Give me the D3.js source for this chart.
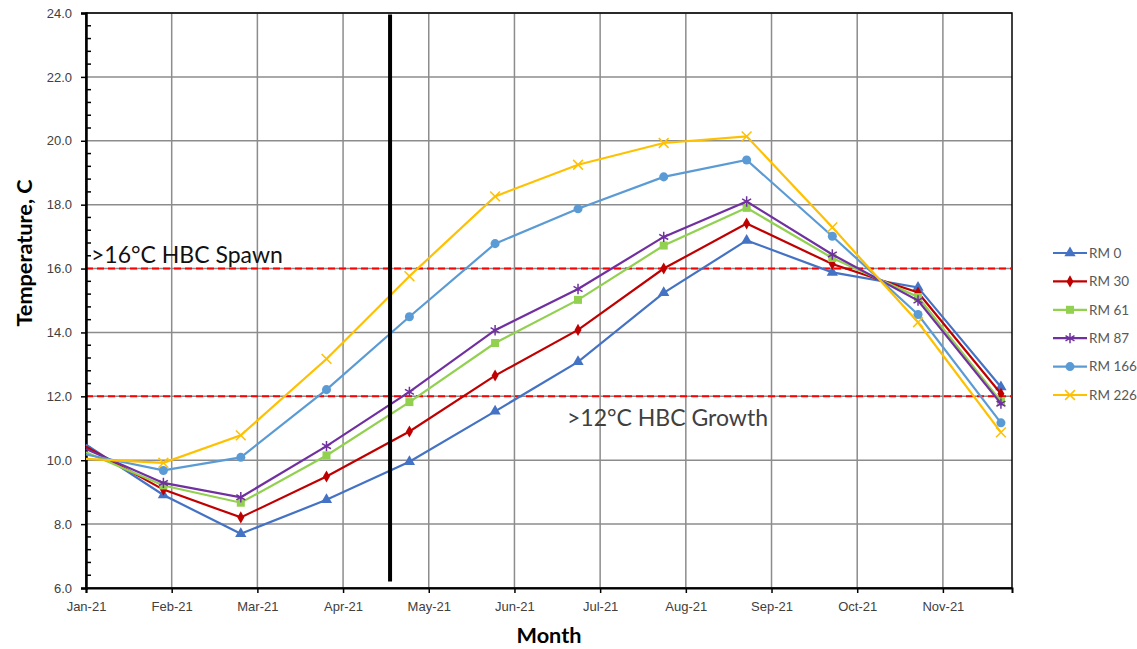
<!DOCTYPE html>
<html>
<head>
<meta charset="utf-8">
<script src="https://cdn.jsdelivr.net/npm/d3@7"></script>
<style>
  body { margin: 0; background: #fff; }
  svg { font-family: Lato, "Open Sans", sans-serif; }
  .grid line { stroke: #8c8c8c; stroke-width: 1.5; }
  .tick text { fill: #404040; font-size: 13px; }
</style>
</head>
<body>
<svg id="chart" width="1137" height="649"></svg>
<script>
// sample dates (one per month)
const dates = ['2021-01-01', '2021-01-29', '2021-02-26', '2021-03-29', '2021-04-28', '2021-05-29',
  '2021-06-28', '2021-07-29', '2021-08-28', '2021-09-28', '2021-10-29', '2021-11-28'];

const rm0 = [10.49, 8.91, 7.70, 8.76, 9.95, 11.53, 13.08, 15.24, 16.88, 15.88, 15.41, 12.29];
const rm30 = [10.42, 9.08, 8.21, 9.49, 10.90, 12.65, 14.08, 16.00, 17.41, 16.14, 15.25, 12.08];
const rm61 = [10.25, 9.21, 8.67, 10.15, 11.82, 13.67, 15.02, 16.72, 17.90, 16.33, 15.11, 11.84];
const rm87 = [10.35, 9.29, 8.84, 10.44, 12.14, 14.07, 15.36, 16.99, 18.10, 16.44, 15.00, 11.77];
const rm166 = [10.18, 9.68, 10.09, 12.21, 14.49, 16.78, 17.87, 18.87, 19.40, 17.01, 14.56, 11.17];
const rm226 = [10.04, 9.92, 10.78, 13.17, 15.76, 18.26, 19.25, 19.93, 20.14, 17.29, 14.32, 10.87];

const seriesNames = ['RM 0', 'RM 30', 'RM 61', 'RM 87', 'RM 166', 'RM 226'];
const seriesValues = [rm0, rm30, rm61, rm87, rm166, rm226];
const colors = ['#4472C4', '#C00000', '#92D050', '#7030A0', '#5B9BD5', '#FFC000'];
const markers = ['triangle', 'diamond', 'square', 'star', 'circle', 'cross'];

const yTicks = [6, 8, 10, 12, 14, 16, 18, 20, 22, 24];
const thresholds = [16, 12];
const thresholdLabels = ['>16\u00B0C HBC Spawn', '>12\u00B0C HBC Growth'];
const markerDate = '2021-04-21';

const parseDate = d3.timeParse('%Y-%m-%d');
const startDate = parseDate('2021-01-01');
const endDate = d3.timeDay.offset(startDate, 335);
// Excel-style major unit of 31 days
const xTicks = d3.range(11).map(i => d3.timeDay.offset(startDate, i * 31));

const margin = {top: 13, right: 125, bottom: 61, left: 86};
const width = 1137 - margin.left - margin.right;
const height = 649 - margin.top - margin.bottom;

const svg = d3.select('#chart');
const chart = svg.append('g')
  .attr('transform', `translate(${margin.left}, ${margin.top})`);

const x = d3.scaleTime()
  .domain([startDate, endDate])
  .range([0, width]);

const y = d3.scaleLinear()
  .domain([6, 24])
  .range([height, 0]);

// Grid lines
chart.append('g')
  .attr('class', 'grid')
  .selectAll('line')
  .data(yTicks)
  .enter().append('line')
    .attr('x1', 0)
    .attr('x2', width)
    .attr('y1', d => y(d))
    .attr('y2', d => y(d));

chart.append('g')
  .attr('class', 'grid')
  .selectAll('line')
  .data(xTicks.slice(1))
  .enter().append('line')
    .attr('x1', d => x(d))
    .attr('x2', d => x(d))
    .attr('y1', 0)
    .attr('y2', height);

// Plot border
chart.append('rect')
  .attr('width', width)
  .attr('height', height)
  .attr('fill', 'none')
  .attr('stroke', '#000')
  .attr('stroke-width', 1.5);

// Threshold lines
chart.selectAll('.threshold')
    .data(thresholds)
  .enter().append('line')
    .attr('class', 'threshold')
    .attr('x1', 0)
    .attr('x2', width)
    .attr('y1', d => y(d))
    .attr('y2', d => y(d))
    .attr('stroke', '#FF0000')
    .attr('stroke-width', 2)
    .attr('stroke-dasharray', '7,4');

chart.append('text')
  .attr('x', 5)
  .attr('y', y(thresholds[0]) - 6)
  .attr('font-size', 23)
  .attr('fill', '#111')
  .text(thresholdLabels[0]);

chart.append('text')
  .attr('x', 481)
  .attr('y', y(thresholds[1]) + 30)
  .attr('font-size', 23)
  .attr('fill', '#404040')
  .text(thresholdLabels[1]);

// Axes
const xAxis = d3.axisBottom(x)
  .tickValues(xTicks)
  .tickFormat(d3.timeFormat('%b-%y'))
  .tickSize(5)
  .tickPadding(9);

const axisX = chart.append('g')
  .attr('transform', `translate(0, ${height})`)
  .call(xAxis);
axisX.select('.domain').attr('stroke-width', 2);
axisX.selectAll('.tick line').attr('stroke-width', 1.5);

const yAxis = d3.axisLeft(y)
  .tickValues(yTicks)
  .tickFormat(d3.format('.1f'))
  .tickSize(5)
  .tickPadding(9);

const axisY = chart.append('g').call(yAxis);
axisY.select('.domain').attr('stroke-width', 2.5);
axisY.selectAll('.tick line').attr('stroke-width', 1.5);

// minor ticks, inside
chart.append('g')
  .selectAll('line')
  .data(d3.range(6, 24.01, 0.4).filter(v => Math.abs(v / 2 - Math.round(v / 2)) > 0.01))
  .enter().append('line')
    .attr('x1', 0)
    .attr('x2', 5)
    .attr('y1', d => y(d))
    .attr('y2', d => y(d))
    .attr('stroke', '#000')
    .attr('stroke-width', 1.5);

// Axis titles
svg.append('text')
  .attr('transform', 'translate(32, 253) rotate(-90)')
  .attr('text-anchor', 'middle')
  .attr('font-size', 21.7)
  .attr('font-weight', 'bold')
  .text('Temperature, C');

svg.append('text')
  .attr('x', 549)
  .attr('y', 643)
  .attr('text-anchor', 'middle')
  .attr('font-size', 21.7)
  .attr('font-weight', 'bold')
  .text('Month');

// Marker shapes
const symbolFor = {
  triangle: d3.symbol(d3.symbolTriangle, 55),
  diamond: d3.symbol(d3.symbolDiamond, 42),
  square: d3.symbol(d3.symbolSquare, 64),
  circle: d3.symbol(d3.symbolCircle, 64),
  star: d3.symbol(d3.symbolAsterisk, 75),
  cross: d3.symbol(d3.symbolX, 64)
};

function drawMarker(g, kind, color) {
  const p = g.append('path').attr('d', symbolFor[kind]());
  if (kind === 'star' || kind === 'cross') {
    p.attr('fill', 'none').attr('stroke', color).attr('stroke-width', 1.5);
  } else {
    p.attr('fill', color);
  }
}

const line = d3.line()
  .x(d => x(d.date))
  .y(d => y(d.value));

const plot = chart.append('g');
seriesValues.forEach((vals, i) => {
  const pts = vals.map((v, j) => ({date: parseDate(dates[j]), value: v}));
  plot.append('path')
    .datum(pts)
    .attr('fill', 'none')
    .attr('stroke', colors[i])
    .attr('stroke-width', 2.2)
    .attr('d', line);
  pts.slice(1).forEach(p => {
    const g = plot.append('g')
      .attr('transform', `translate(${x(p.date)}, ${y(p.value)})`);
    drawMarker(g, markers[i], colors[i]);
  });
});

// Vertical marker line
chart.append('line')
  .attr('x1', x(parseDate(markerDate)))
  .attr('x2', x(parseDate(markerDate)))
  .attr('y1', y(23.95))
  .attr('y2', y(6.2))
  .attr('stroke', '#000')
  .attr('stroke-width', 4);

// Legend
const legend = svg.append('g')
  .attr('transform', 'translate(1053, 253)');

seriesNames.forEach((name, i) => {
  const row = legend.append('g')
    .attr('transform', `translate(0, ${i * 28.4})`);
  row.append('line')
    .attr('x1', 0)
    .attr('x2', 34)
    .attr('stroke', colors[i])
    .attr('stroke-width', 2.2);
  const g = row.append('g').attr('transform', 'translate(17, 0)');
  drawMarker(g, markers[i], colors[i]);
  row.append('text')
    .attr('x', 36)
    .attr('dy', '0.35em')
    .attr('font-size', 13.5)
    .attr('fill', '#595959')
    .text(name);
});
</script>
</body>
</html>
